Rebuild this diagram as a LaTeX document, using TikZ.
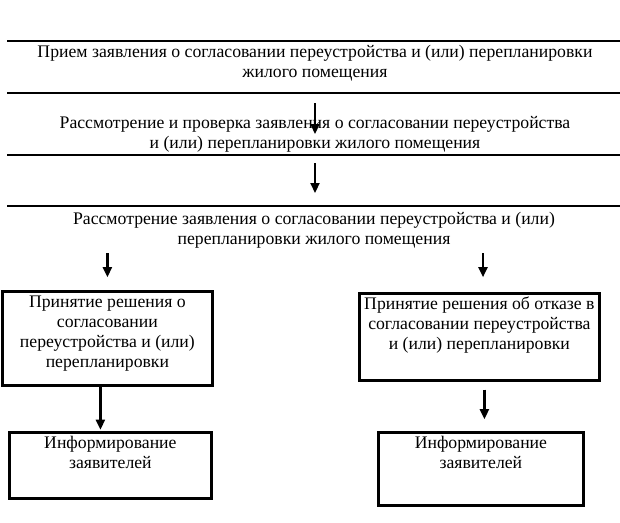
\documentclass[tikz,border=0pt]{standalone}
\usepackage{fontspec}
\setmainfont{Liberation Serif}
\usetikzlibrary{arrows.meta, positioning}

\newcommand{\boxtext}[3]{\parbox[t][#2][t]{#1}{\centering\rule{0pt}{16pt}#3}}

\tikzset{
  rule/.style={line width=1.4pt},
  stage/.style={align=center, inner sep=0pt, font=\fontsize{17.7}{20}\selectfont},
  decision/.style={draw, line width=2.4pt, inner sep=0pt, anchor=north west, font=\fontsize{17.7}{20}\selectfont},
  flow/.style={line width=2.2pt, -{Triangle[length=10pt, width=9pt]}},
}

\begin{document}
\begin{tikzpicture}[x=1pt, y=-1pt]
  \useasboundingbox (0,0) rectangle (620,522);

  % Rules of the table
  \foreach \y in {41,93,155,206}
    \draw[rule] (7,\y) -- (620,\y);

  % Stages
  \node[stage] (receive) at (315,63) {Прием заявления о согласовании переустройства и (или) перепланировки\\жилого помещения};
  \node[stage] (check) at (315,134) {Рассмотрение и проверка заявления о согласовании переустройства\\и (или) перепланировки жилого помещения};
  \node[stage] (review) at (314,230) {Рассмотрение заявления о согласовании переустройства и (или)\\перепланировки жилого помещения};

  \coordinate (checkIn) at (315,103);
  \coordinate (checkTip) at (315,134);
  \coordinate (reviewIn) at (315,163);
  \coordinate (reviewTip) at (315,193);
  \draw[flow] (checkIn) -- (checkTip);
  \draw[flow] (reviewIn) -- (reviewTip);

  % Decisions
  \node[decision] (accept) at (1.2,290.2) {\boxtext{210pt}{94pt}{Принятие решения о\\согласовании\\переустройства и (или)\\перепланировки}};
  \node[decision] (reject) at (358.2,292.2) {\boxtext{240pt}{87pt}{Принятие решения об отказе в\\согласовании переустройства\\и (или) перепланировки}};

  \draw[flow] ([yshift=-5pt]review.south -| accept.north) -- ([yshift=13pt]accept.north);
  \draw[flow] ([yshift=-5pt]review.south -| 483,0) -- ([yshift=15pt]reject.north -| 483,0);

  % Informing
  \node[decision] (informA) at (8.2,431.2) {\boxtext{202pt}{66pt}{Информирование\\заявителей}};
  \node[decision] (informR) at (377.2,431.2) {\boxtext{205pt}{73pt}{Информирование\\заявителей}};

  \draw[flow] ([xshift=-7pt]accept.south) -- ([xshift=-7pt, yshift=1.5pt]accept.south |- informA.north);
  \draw[flow] ([xshift=5pt, yshift=-8pt]reject.south) -- ([xshift=5pt, yshift=12pt]reject.south |- informR.north);
\end{tikzpicture}
\end{document}
